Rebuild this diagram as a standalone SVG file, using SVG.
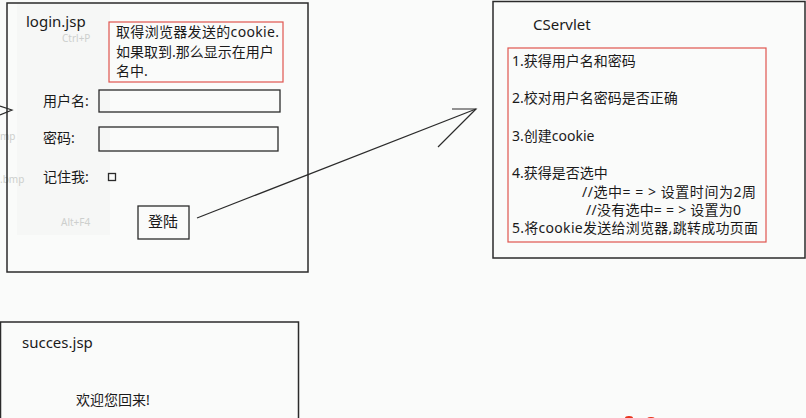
<svg xmlns="http://www.w3.org/2000/svg" width="806" height="418" viewBox="0 0 806 418">
<style>
.box{fill:none;stroke:#2b2b2b;stroke-width:1.5}
.note{fill:none;stroke:#e0554f;stroke-width:1.2}
.inp{fill:none;stroke:#2b2b2b;stroke-width:1.3}
.t{font-family:"Noto Sans","Noto Sans CJK SC",sans-serif;font-size:14px;fill:#1a1a1a}
.h{font-family:"Noto Sans","Noto Sans CJK SC",sans-serif;font-size:15px;fill:#1a1a1a}
.g{font-family:"Noto Sans",sans-serif;font-size:10px;fill:#cdcfcd}
.ln{fill:none;stroke:#2b2b2b;stroke-width:1.2}
</style>
<rect width="806" height="418" fill="#fafbfa"/>
<!-- faint ghost overlay -->
<rect x="17" y="2" width="93" height="233" fill="#f6f7f6"/>
<text class="g" x="62" y="42">Ctrl+P</text>
<text class="g" x="0" y="140">mp</text>
<text class="g" x="0" y="183">.bmp</text>
<text class="g" x="61" y="226">Alt+F4</text>
<g id="login">
<rect class="box" x="7" y="3" width="301" height="269"/>
<text class="h" x="26" y="27">login.jsp</text>
<rect class="note" x="109" y="22" width="174" height="60"/>
<text class="t" x="116" y="37" textLength="163">取得浏览器发送的cookie.</text>
<text class="t" x="116" y="57">如果取到.那么显示在用户</text>
<text class="t" x="116" y="76">名中.</text>
<text class="t" x="43" y="106">用户名:</text>
<rect class="inp" x="99" y="90" width="181" height="22"/>
<text class="t" x="43" y="143">密码:</text>
<rect class="inp" x="99" y="127" width="179" height="24"/>
<text class="t" x="43" y="182">记住我:</text>
<rect class="inp" x="108.5" y="173.5" width="7" height="7" stroke-width="1.2"/>
<rect class="inp" x="138" y="206" width="51" height="33"/>
<text class="h" x="148" y="227">登陆</text>
</g>
<g id="cservlet">
<rect class="box" x="493" y="1.5" width="312" height="256.5"/>
<text class="h" x="533" y="30">CServlet</text>
<rect class="note" x="508" y="48" width="258" height="194"/>
<text class="t" x="512" y="66">1.获得用户名和密码</text>
<text class="t" x="512" y="103">2.校对用户名密码是否正确</text>
<text class="t" x="512" y="141">3.创建cookie</text>
<text class="t" x="512" y="178">4.获得是否选中</text>
<text class="t" x="582" y="197" textLength="174">//选中= = &gt; 设置时间为2周</text>
<text class="t" x="586" y="215" textLength="155">//没有选中= = &gt; 设置为0</text>
<text class="t" x="512" y="233" textLength="246">5.将cookie发送给浏览器,跳转成功页面</text>
</g>
<g id="succes">
<rect class="box" x="0.5" y="322" width="298" height="100"/>
<text class="h" x="22" y="348">succes.jsp</text>
<text class="t" x="76" y="405">欢迎您回来!</text>
</g>
<g id="connectors">
<path class="ln" d="M197 218 L476 109"/>
<path class="ln" d="M452 109 L476 109 L438 147"/>
<path class="ln" d="M0 106 L12 110 L0 115"/>
</g>
<ellipse cx="629" cy="418" rx="4" ry="2" fill="#e8331c"/>
<ellipse cx="651" cy="419" rx="4" ry="2" fill="#e8331c"/>
</svg>
